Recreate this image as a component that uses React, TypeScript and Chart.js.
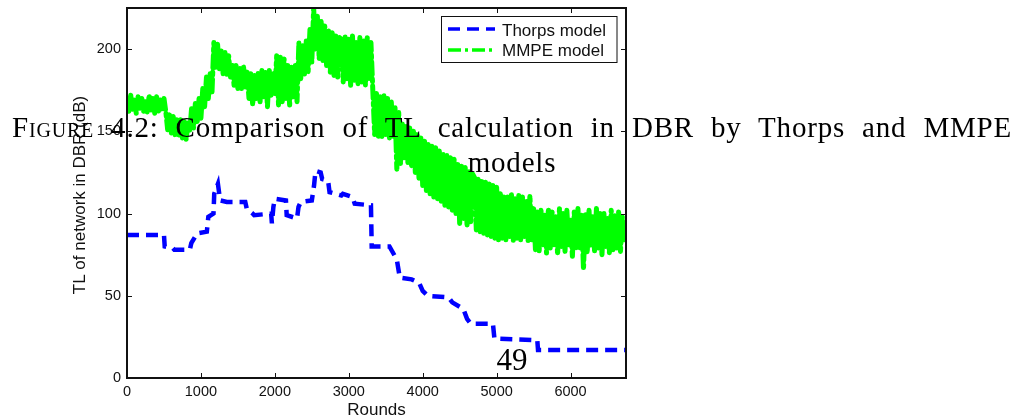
import React, { useEffect, useRef } from "react";
import { Chart, registerables } from "chart.js";

Chart.register(...registerables);

// ---------- data ----------
const X_TICKS = [0, 1000, 2000, 3000, 4000, 5000, 6000];
const Y_TICKS = [0, 50, 100, 150, 200];
const X_MAX = 6750;
const Y_MAX = 225;

const SERIES_LABELS = ["Thorps model", "MMPE model"];
const X_TITLE = "Rounds";
const Y_TITLE = "TL of network in DBR (dB)";
const CAPTION_WORD = "Figure";
const CAPTION_REST = " 4.2: Comparison of TL calculation in DBR by Thorps and MMPE";
const CAPTION_LINE2 = "models";
const PAGE_NUMBER = "49";

// Thorps model: step-like curve (round, TL)
const THORPS_ROUNDS = [
  0, 500, 510, 620, 640, 850, 870, 950, 1080, 1100, 1170, 1180, 1230, 1260, 1350,
  1600, 1620, 1700, 1720, 1950, 1960, 1980, 2000, 2150, 2160, 2300, 2320, 2350,
  2500, 2530, 2550, 2620, 2640, 2720, 2740, 2900, 2920, 3050, 3080, 3300, 3310,
  3550, 3600, 3650, 3690, 3850, 3950, 4000, 4070, 4350, 4400, 4550, 4600, 4650,
  4950, 4970, 5550, 5560, 6750,
];
const THORPS_TL = [
  87, 87, 80, 79, 78, 78, 82, 88, 89, 98, 100, 112, 118, 108, 107,
  107, 103, 100, 99, 100, 94, 104, 109, 108, 99, 97, 104, 107,
  108, 117, 126, 125, 121, 120, 113, 111, 112, 110, 106, 105, 80,
  80, 76, 72, 61, 60, 58, 53, 50, 49, 46, 42, 36, 33,
  33, 24, 23, 17, 17,
];

// MMPE model: noisy band, one reading every MMPE_STEP rounds starting at 0
const MMPE_STEP = 25;
const MMPE_TL = [
  // 0 - 500
  170, 162, 172, 163, 169, 161, 171, 164, 170, 162, 168, 161, 172, 163, 170, 161, 171, 162, 169, 163, 170,
  // 525 - 850
  162, 151, 160, 149, 159, 148, 158, 147, 157, 146, 156, 145, 155, 150,
  // 875 - 1050
  165, 152, 167, 156, 170, 158, 176, 165,
  // 1075 - 1150
  183, 170, 185, 174,
  // 1175 - 1250
  204, 189, 203, 188,
  // 1275 - 1400
  199, 185, 198, 184, 196, 183,
  // 1425 - 1600
  191, 177, 190, 176, 189, 175, 190, 177,
  // 1625 - 1800
  186, 170, 185, 166, 184, 170, 186, 168,
  // 1825 - 2000
  187, 171, 186, 165, 187, 171, 186, 173,
  // 2025 - 2150
  196, 166, 195, 168, 194, 170,
  // 2175 - 2300
  190, 166, 189, 171, 191, 168,
  // 2325 - 2450
  204, 182, 203, 184, 205, 186,
  // 2475 - 2550
  212, 192, 225, 200,
  // 2575 - 2700
  220, 194, 218, 193, 214, 190,
  // 2725 - 2875
  212, 186, 210, 184, 208, 183, 207,
  // 2900 - 3300
  206, 180, 208, 182, 206, 178, 208, 181, 204, 179, 207, 180, 205, 178, 207, 181, 204,
  // 3325 - 3600
  175, 148, 173, 147, 171, 146, 172, 148, 170, 146, 168, 147,
  // 3625 - 3700
  165, 127, 162, 130,
  // 3725 - 4050
  155, 134, 153, 131, 152, 128, 150, 125, 148, 121, 146, 117, 144, 114,
  // 4075 - 4675
  142, 112, 141, 110, 140, 109, 138, 107, 137, 105, 136, 104, 134, 102, 133, 100, 131, 94, 129, 97, 128, 92, 126, 95, 124,
  // 4700 - 5000
  122, 90, 121, 89, 120, 88, 119, 87, 118, 86, 117, 85, 116,
  // 5025 - 5475
  84, 112, 85, 111, 84, 110, 86, 112, 83, 109, 85, 111, 84, 110, 86, 108, 83, 111, 84,
  // 5500 - 6750
  103, 78, 101, 77, 102, 80, 99, 76, 103, 79, 101, 81, 98, 75, 103, 80, 100, 77, 102, 81,
  97, 74, 101, 79, 103, 78, 99, 66, 100, 76, 102, 80, 98, 77, 103, 79, 100, 75, 101, 80,
  97, 76, 102, 78, 99, 79, 101, 77, 98, 84, 90,
];

// ---------- styles ----------
const BLUE = "#0000ff";
const GREEN = "#00ff00";
const INK = "#111111";
const SANS = '"Liberation Sans", Arial, sans-serif';
const SERIF = '"Liberation Serif", "Times New Roman", serif';
const BLUE_DASH = [12, 7];
const GREEN_DASH = [13, 4, 3, 4];

const decorPlugin = {
  id: "decor",
  afterDraw(chart: any) {
    const { ctx, chartArea, scales } = chart;
    const { left, right, top, bottom } = chartArea;
    const xs = scales.x;
    const ys = scales.y;
    ctx.save();

    // inward tick marks
    ctx.strokeStyle = INK;
    ctx.lineWidth = 1;
    ctx.setLineDash([]);
    ctx.beginPath();
    X_TICKS.forEach((v) => {
      const px = Math.round(xs.getPixelForValue(v)) + 0.5;
      ctx.moveTo(px, bottom);
      ctx.lineTo(px, bottom - 5);
      ctx.moveTo(px, top);
      ctx.lineTo(px, top + 5);
    });
    Y_TICKS.forEach((v) => {
      const py = Math.round(ys.getPixelForValue(v)) + 0.5;
      ctx.moveTo(left, py);
      ctx.lineTo(left + 5, py);
      ctx.moveTo(right, py);
      ctx.lineTo(right - 5, py);
    });
    ctx.stroke();

    // frame
    ctx.lineWidth = 2;
    ctx.strokeRect(left, top, right - left, bottom - top);

    // legend
    const lx = 441.5, ly = 16.5, lw = 175.5, lh = 46;
    ctx.fillStyle = "#ffffff";
    ctx.fillRect(lx, ly, lw, lh);
    ctx.lineWidth = 1;
    ctx.strokeStyle = INK;
    ctx.strokeRect(lx, ly, lw, lh);

    const rows = [
      { y: 29, base: 36, color: BLUE, dash: BLUE_DASH },
      { y: 50, base: 56, color: GREEN, dash: GREEN_DASH },
    ];
    rows.forEach((r, i) => {
      ctx.beginPath();
      ctx.strokeStyle = r.color;
      ctx.lineWidth = 3.5;
      ctx.lineCap = "butt";
      ctx.setLineDash(r.dash);
      ctx.moveTo(448, r.y);
      ctx.lineTo(495, r.y);
      ctx.stroke();
      ctx.setLineDash([]);
      ctx.fillStyle = INK;
      ctx.font = `17px ${SANS}`;
      ctx.textAlign = "left";
      ctx.textBaseline = "alphabetic";
      ctx.fillText(SERIES_LABELS[i], 502, r.base);
    });

    // axis titles
    ctx.fillStyle = INK;
    ctx.font = `17px ${SANS}`;
    ctx.textAlign = "center";
    ctx.textBaseline = "alphabetic";
    ctx.fillText(X_TITLE, (left + right) / 2, 415);
    ctx.translate(85, (top + bottom) / 2 + 2);
    ctx.rotate(-Math.PI / 2);
    ctx.fillText(Y_TITLE, 0, 0);

    ctx.restore();
  },
};

export default function App() {
  const canvasRef = useRef<HTMLCanvasElement | null>(null);

  useEffect(() => {
    const canvas = canvasRef.current;
    if (!canvas) return;

    const thorps = THORPS_ROUNDS.map((r, i) => ({ x: r, y: THORPS_TL[i] }));
    const mmpe = MMPE_TL.map((v, i) => ({ x: i * MMPE_STEP, y: v }));

    const chart = new Chart(canvas, {
      type: "line",
      data: {
        datasets: [
          {
            label: SERIES_LABELS[0],
            data: thorps,
            borderColor: BLUE,
            borderWidth: 4.5,
            borderDash: BLUE_DASH,
            pointRadius: 0,
            tension: 0,
            fill: false,
          },
          {
            label: SERIES_LABELS[1],
            data: mmpe,
            borderColor: GREEN,
            borderWidth: 5,
            borderDash: GREEN_DASH,
            borderCapStyle: "round",
            borderJoinStyle: "round",
            pointRadius: 0,
            tension: 0,
            fill: false,
          },
        ],
      },
      options: {
        animation: false,
        responsive: false,
        devicePixelRatio: 1,
        layout: { padding: { left: 0, top: 8, right: 393, bottom: 0 } },
        plugins: {
          legend: { display: false },
          tooltip: { enabled: false },
          title: { display: false },
        },
        scales: {
          x: {
            type: "linear",
            min: 0,
            max: X_MAX,
            grid: { display: false, drawTicks: false },
            border: { display: false },
            ticks: {
              font: { family: SANS, size: 14.5 },
              color: INK,
              padding: 5,
              maxRotation: 0,
              autoSkip: false,
              callback: (value: any) => String(value),
            },
            afterBuildTicks: (scale: any) => {
              scale.ticks = X_TICKS.map((v) => ({ value: v }));
            },
            afterFit: (scale: any) => {
              scale.height = 38;
              scale.paddingLeft = 0;
              scale.paddingRight = 0;
            },
          },
          y: {
            type: "linear",
            min: 0,
            max: Y_MAX,
            grid: { display: false, drawTicks: false },
            border: { display: false },
            ticks: {
              font: { family: SANS, size: 14.5 },
              color: INK,
              padding: 6,
              autoSkip: false,
              callback: (value: any) => String(value),
            },
            afterBuildTicks: (scale: any) => {
              scale.ticks = Y_TICKS.map((v) => ({ value: v }));
            },
            afterFit: (scale: any) => {
              scale.width = 127;
              scale.paddingTop = 0;
              scale.paddingBottom = 0;
            },
          },
        },
      },
      plugins: [decorPlugin],
    });

    return () => chart.destroy();
  }, []);

  return (
    <div style={{ position: "absolute", left: 0, top: 0, width: 1019, height: 416, background: "#fff" }}>
      <canvas ref={canvasRef} width={1019} height={416} style={{ display: "block" }} />
      <div
        style={{
          position: "absolute",
          left: 12,
          top: 110,
          width: 1000,
          fontFamily: SERIF,
          fontSize: 29,
          letterSpacing: "0.8px",
          lineHeight: "35px",
          color: "#000",
          textAlign: "justify",
          textAlignLast: "justify",
          pointerEvents: "none",
        }}
      >
        <span style={{ fontVariant: "small-caps" }}>{CAPTION_WORD}</span>
        {CAPTION_REST}
      </div>
      <div
        style={{
          position: "absolute",
          left: 412,
          top: 145,
          width: 200,
          fontFamily: SERIF,
          fontSize: 29,
          letterSpacing: "0.8px",
          lineHeight: "35px",
          color: "#000",
          textAlign: "center",
          pointerEvents: "none",
        }}
      >
        {CAPTION_LINE2}
      </div>
      <div
        style={{
          position: "absolute",
          left: 462,
          top: 344,
          width: 100,
          fontFamily: SERIF,
          fontSize: 31,
          lineHeight: 1,
          color: "#000",
          textAlign: "center",
          pointerEvents: "none",
        }}
      >
        {PAGE_NUMBER}
      </div>
    </div>
  );
}
